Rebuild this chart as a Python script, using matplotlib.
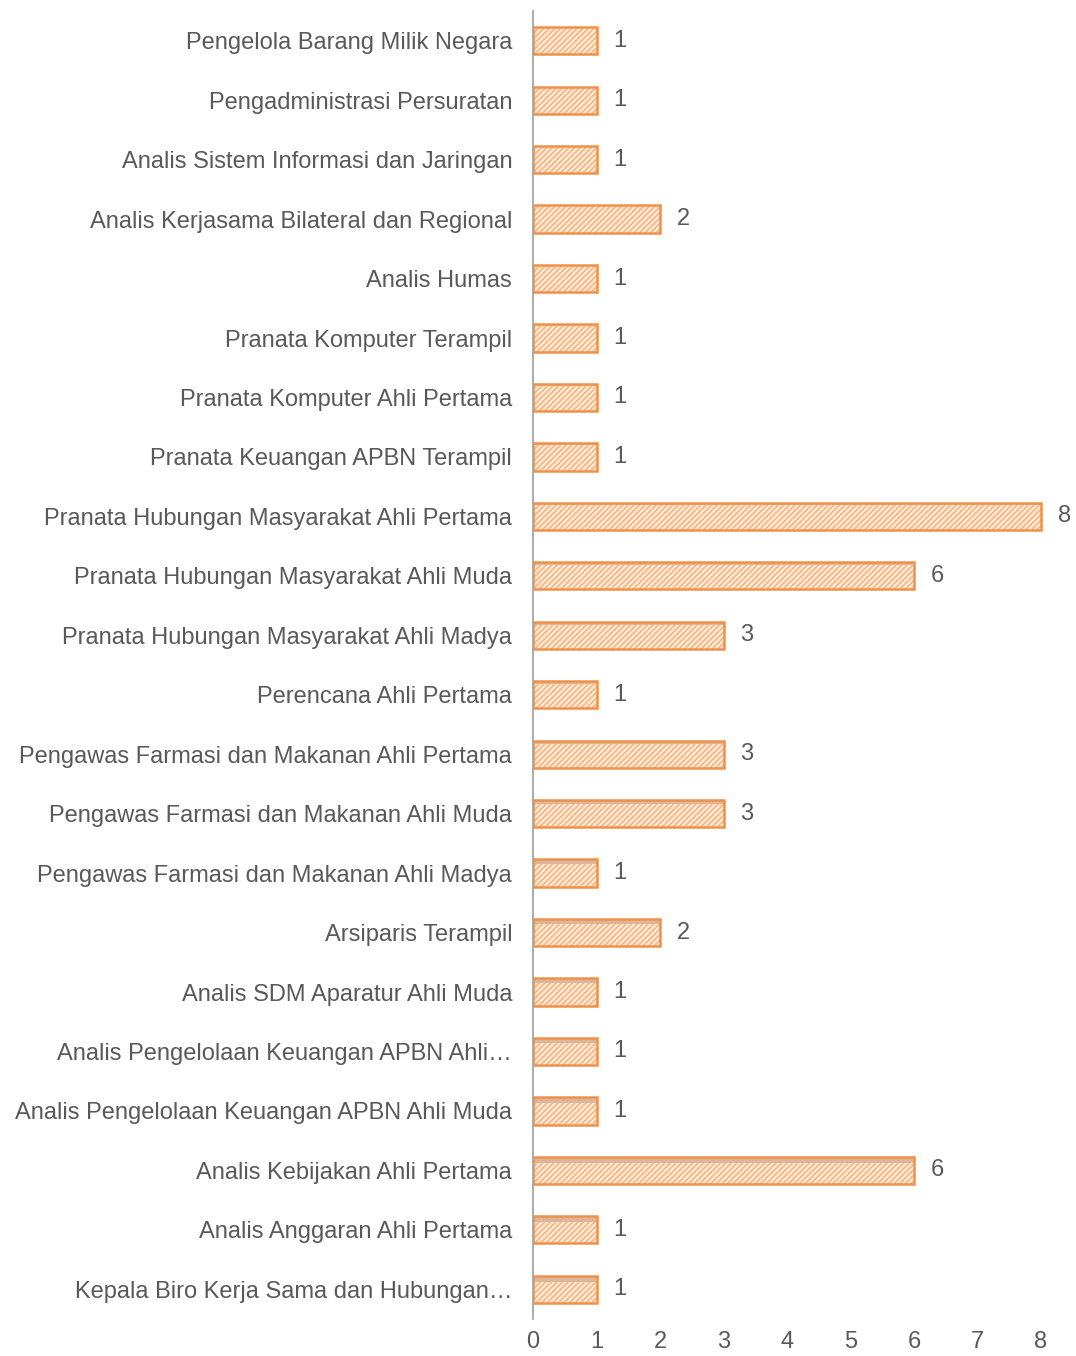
import matplotlib
matplotlib.use("Agg")
import matplotlib.pyplot as plt

categories = [
    "Pengelola Barang Milik Negara",
    "Pengadministrasi Persuratan",
    "Analis Sistem Informasi dan Jaringan",
    "Analis Kerjasama Bilateral dan Regional",
    "Analis Humas",
    "Pranata Komputer Terampil",
    "Pranata Komputer Ahli Pertama",
    "Pranata Keuangan APBN Terampil",
    "Pranata Hubungan Masyarakat Ahli Pertama",
    "Pranata Hubungan Masyarakat Ahli Muda",
    "Pranata Hubungan Masyarakat Ahli Madya",
    "Perencana Ahli Pertama",
    "Pengawas Farmasi dan Makanan Ahli Pertama",
    "Pengawas Farmasi dan Makanan Ahli Muda",
    "Pengawas Farmasi dan Makanan Ahli Madya",
    "Arsiparis Terampil",
    "Analis SDM Aparatur Ahli Muda",
    "Analis Pengelolaan Keuangan APBN Ahli\u2026",
    "Analis Pengelolaan Keuangan APBN Ahli Muda",
    "Analis Kebijakan Ahli Pertama",
    "Analis Anggaran Ahli Pertama",
    "Kepala Biro Kerja Sama dan Hubungan\u2026",
]
values = [1, 1, 1, 2, 1, 1, 1, 1, 8, 6, 3, 1, 3, 3, 1, 2, 1, 1, 1, 6, 1, 1]
xticks = [0, 1, 2, 3, 4, 5, 6, 7, 8]

plt.rcParams['font.family'] = ['Liberation Sans', 'DejaVu Sans']
text_color = '#595959'
fs = 17

W, H = 1076, 1356
fig = plt.figure(figsize=(W / 100, H / 100), dpi=100)
left = 533 / W
ax = fig.add_axes([left, 1 - 1319 / H, 1 - left, (1319 - 11) / H])

n = len(categories)
ypos = list(range(n))
bh = 0.46

plt.rcParams['hatch.linewidth'] = 1.2
ax.barh(ypos, values, height=bh, color='#FFEBD9', edgecolor='#F8B47E',
        hatch='//////', linewidth=0, zorder=2)
# top face strip (3D look), deeper toward the bottom of the chart
for i, (y, v) in enumerate(zip(ypos, values)):
    sh = 0.11 * i / (n - 1)
    if sh > 0.01:
        ax.barh(y - bh / 2 + sh / 2, v, height=sh, color='#DDB69A',
                linewidth=0, zorder=2.5)
ax.barh(ypos, values, height=bh, fill=False, edgecolor='#F0914A',
        linewidth=1.8, zorder=3)

for y, v in zip(ypos, values):
    ax.annotate(str(v), xy=(v, y), xytext=(12, 0), textcoords='offset points',
                va='center', ha='left', fontsize=fs, color=text_color)

ax.set_xlim(0, (W - 533) / 63.5)
ax.set_ylim(n - 0.5, -0.5)
ax.set_yticks(ypos)
ax.set_yticklabels(categories, fontsize=fs, color=text_color)
ax.set_xticks(xticks)
ax.set_xticklabels([str(t) for t in xticks], fontsize=fs, color=text_color)
ax.tick_params(axis='both', length=0)
ax.tick_params(axis='y', pad=15)
ax.tick_params(axis='x', pad=9)

for s in ['top', 'right', 'bottom']:
    ax.spines[s].set_visible(False)
ax.spines['left'].set_color('#A6A6A6')
ax.spines['left'].set_linewidth(1.3)
ax.set_facecolor('white')

fig.savefig('out.png', dpi=100, facecolor='white')
